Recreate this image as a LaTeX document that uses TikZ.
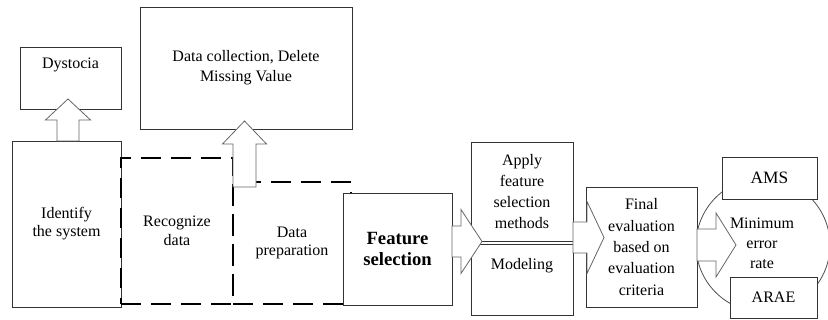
\documentclass[tikz,border=0pt]{standalone}
\usepackage{fontspec}
\setmainfont{Liberation Serif}
\usetikzlibrary{calc}
\newdimen\pxu \pxu=0.75pt
\newcommand{\hblock}[5]{\draw[blk] ($(#1)+(0,-#4)$) -- ++(#2,0) -- ++(0,#4-#5) -- ++(#3,#5) -- ++(-#3,#5) -- ++(0,#4-#5) -- ++(-#2,0) -- cycle;}
\newcommand{\vblock}[5]{\draw[blk] ($(#1)+(-#4,0)$) -- ++(0,-#2) -- ++(#4-#5,0) -- ++(#5,-#3) -- ++(#5,#3) -- ++(#4-#5,0) -- ++(0,#2) -- cycle;}
\begin{document}
\begin{tikzpicture}[x=0.75pt,y=-0.75pt,
  box/.style={rectangle, draw=black!80, line width=0.6pt, fill=white, inner sep=0pt, outer sep=0pt, align=center, font=\fontsize{12}{15}\selectfont},
  dbox/.style={rectangle, draw=black, line width=1.5pt, dash pattern=on 15pt off 7.5pt, inner sep=0pt, outer sep=0pt, align=center, font=\fontsize{12}{14}\selectfont},
  blk/.style={draw=black!60, line width=0.6pt, fill=white, line join=miter},
  txt/.style={align=center, inner sep=0pt, font=\fontsize{12}{15}\selectfont},
]
\useasboundingbox (0,0) rectangle (828,320);

% top boxes
\node[box, anchor=north west, minimum width=101\pxu, minimum height=62\pxu] (dyst) at (20,47) {};
\node[txt] (dystT) at (70.5,65) {Dystocia};
\node[box, anchor=north west, minimum width=212\pxu, minimum height=122\pxu] (coll) at (140,7) {Data collection, Delete\\Missing Value};

% left chain
\node[box, anchor=north west, minimum width=109\pxu, minimum height=166\pxu, font=\fontsize{12}{13.5}\selectfont] (ident) at (12,141) {Identify\\the system};
\node[dbox, anchor=north west, minimum width=112\pxu, minimum height=146\pxu] (rec) at (121,158) {Recognize\\data};
\node[dbox, anchor=north west, minimum width=118\pxu, minimum height=122\pxu] (prep) at (233,182) {Data\\preparation};

% up arrows
\coordinate (a1) at ($(ident.north)+(1.5,0)$);
\vblock{a1}{21}{21}{11}{22.5}
\coordinate (a2) at ($(prep.north west)+(11.5,5)$);
\vblock{a2}{43}{23}{11.5}{22}

% feature selection
\node[box, anchor=north west, minimum width=109\pxu, minimum height=112\pxu, font=\fontsize{14}{16}\selectfont\bfseries] (feat) at (343,193) {Feature\\selection};

\node[box, anchor=north west, minimum width=102\pxu, minimum height=99\pxu, font=\fontsize{12}{15.75}\selectfont] (apply) at (471,142) {Apply\\feature\\selection\\methods};
\node[box, anchor=north west, minimum width=102\pxu, minimum height=71\pxu] (model) at (471,244) {};
\node[txt] (modelT) at (522,266) {Modeling};

\coordinate (a3) at ($(feat.east |- apply.south)+(0,0.5)$);
\hblock{a3}{9}{21}{15.5}{32}

% evaluation
\node[circle, draw=black!70, line width=0.6pt, minimum size=134\pxu, inner sep=0pt] (circ) at (763,245) {};
\node[box, anchor=north west, minimum width=111\pxu, minimum height=120\pxu, font=\fontsize{12}{16}\selectfont] (final) at (586,187) {Final\\evaluation\\based on\\evaluation\\criteria};
\node[box, anchor=north west, minimum width=95\pxu, minimum height=42\pxu, font=\fontsize{13}{15}\selectfont] (ams) at (722,157) {AMS};
\node[box, anchor=north west, minimum width=87\pxu, minimum height=41\pxu] (arae) at (730,277) {ARAE};

\coordinate (a4) at ($(apply.south east)+(0,-3.5)$);
\hblock{a4}{14}{17}{15.5}{36}
\coordinate (a5) at (final.east |- circ.center);
\hblock{a5}{19}{20}{16}{32}

\node[txt] (minT) at (762,243) {Minimum\\error\\rate};
\end{tikzpicture}
\end{document}
